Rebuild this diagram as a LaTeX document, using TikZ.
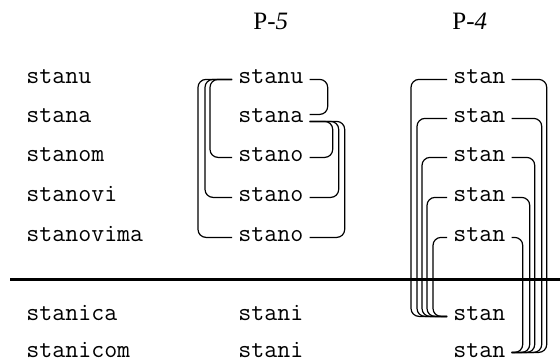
\documentclass[tikz,border=0pt]{standalone}
\usepackage{fontspec}
\setmainfont{Liberation Serif}

\begin{document}
\begin{tikzpicture}[
	x=0.5pt, y=-0.5pt,
	word/.style={
		anchor=base west,
		inner xsep=3pt,
		inner ysep=0pt,
		text height=1ex,
		text depth=0pt,
		font=\fontsize{12.6}{15}\ttfamily,
	},
	head/.style={
		anchor=base west,
		inner sep=0pt,
		font=\fontsize{12.5}{15}\selectfont,
	},
	BracketC1/.style={% Brackets with rounded corners
		rounded corners=4pt,
		line width=0.6pt,
	},
]
	\useasboundingbox (0,0) rectangle (560,362);

	\node [head] (p5) at (253,30) {P-\textit{5}};
	\node [head] (p4) at (452,30) {P-\textit{4}};

	\node [word] (w1) at (20,84) {stanu};
	\node [word] (w2) at (20,123) {stana};
	\node [word] (w3) at (20,162) {stanom};
	\node [word] (w4) at (20,202) {stanovi};
	\node [word] (w5) at (20,242) {stanovima};
	\node [word] (w6) at (20,321) {stanica};
	\node [word] (w7) at (20,357) {stanicom};

	\node [word] (a1) at (232,84) {stanu};
	\node [word] (a2) at (232,123) {stana};
	\node [word] (a3) at (232,162) {stano};
	\node [word] (a4) at (232,202) {stano};
	\node [word] (a5) at (232,242) {stano};
	\node [word] (a6) at (232,321) {stani};
	\node [word] (a7) at (232,357) {stani};

	\node [word] (b1) at (447,84) {stan};
	\node [word] (b2) at (447,123) {stan};
	\node [word] (b3) at (447,162) {stan};
	\node [word] (b4) at (447,202) {stan};
	\node [word] (b5) at (447,242) {stan};
	\node [word] (b6) at (447,321) {stan};
	\node [word] (b7) at (447,357) {stan};

	\coordinate (ruleL) at (10,280);
	\coordinate (ruleR) at (560,280);
	\draw [line width=1.5pt] (ruleL) -- (ruleR);

	% P-5
	\draw [BracketC1] (a1.west) -- ++(-22,0) |- (a3.west);
	\draw [BracketC1] (a1.west) -- ++(-27,0) |- (a4.west);
	\draw [BracketC1] (a1.west) -- ++(-34,0) |- (a5.west);
	\draw [BracketC1] (a1.east) -- ++(18,0) |- ([yshift=2pt]a2.east);
	\draw [BracketC1] ([yshift=-1.5pt]a2.east) -- ++(23,0) |- (a3.east);
	\draw [BracketC1] ([yshift=-1.5pt]a2.east) -- ++(29,0) |- (a4.east);
	\draw [BracketC1] ([yshift=-1.5pt]a2.east) -- ++(35,0) |- (a5.east);

	% P-4
	\draw [BracketC1] (b1.west) -- ++(-36,0) |- (b6.west);
	\draw [BracketC1] (b2.west) -- ++(-30,0) |- (b6.west);
	\draw [BracketC1] (b3.west) -- ++(-25,0) |- (b6.west);
	\draw [BracketC1] (b4.west) -- ++(-20,0) |- (b6.west);
	\draw [BracketC1] (b5.west) -- ++(-14,0) |- (b6.west);
	\draw [BracketC1] (b1.east) -- ++(35,0) |- (b7.east);
	\draw [BracketC1] (b2.east) -- ++(30,0) |- (b7.east);
	\draw [BracketC1] (b3.east) -- ++(23,0) |- (b7.east);
	\draw [BracketC1] (b4.east) -- ++(18,0) |- (b7.east);
	\draw [BracketC1] (b5.east) -- ++(11,0) |- (b7.east);
\end{tikzpicture}
\end{document}
